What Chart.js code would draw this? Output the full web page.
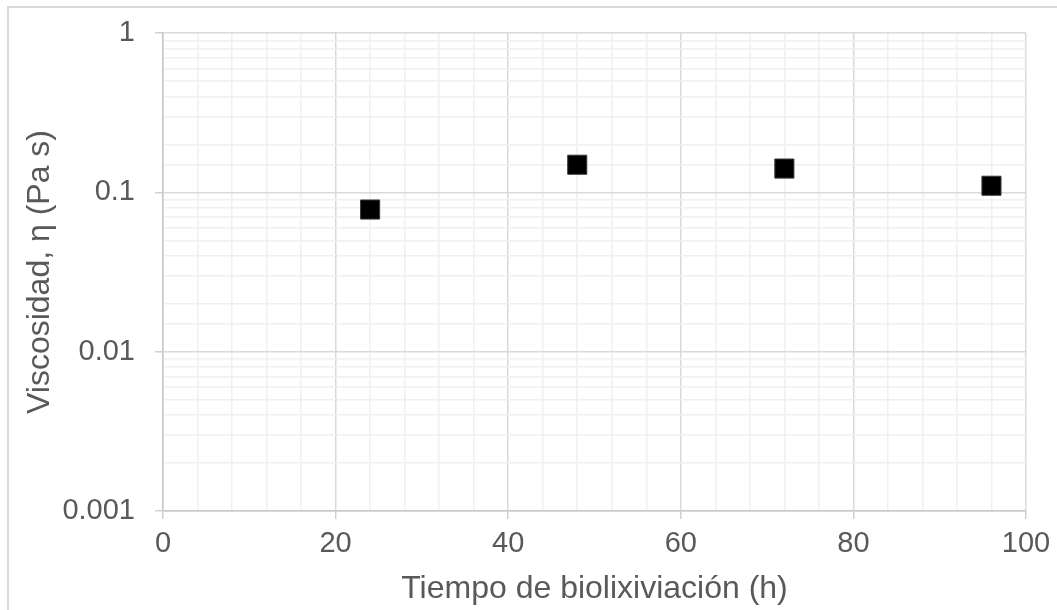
<!DOCTYPE html>
<html>
<head>
<meta charset="utf-8">
<script src="https://cdn.jsdelivr.net/npm/chart.js@4.4.1/dist/chart.umd.min.js"></script>
<style>
  html, body { margin: 0; padding: 0; background: #fff; }
  #wrap { position: relative; width: 1057px; height: 610px; overflow: hidden; }
  #frame { position: absolute; left: 7px; top: 6px; width: 1060px; height: 620px;
           border: 2px solid #d9d9d9; box-sizing: border-box; }
  #chartViscosidad { position: absolute; left: 0; top: 0; }
</style>
</head>
<body>
<div id="wrap">
  <div id="frame"></div>
  <canvas id="chartViscosidad" width="1057" height="610"></canvas>
</div>
<script>
// tiempo de biolixiviación (h) y viscosidad (Pa s)
const tiempos = [24, 48, 72, 96];
const viscosidad = [0.078, 0.149, 0.141, 0.110];

const xTickLabels = [0, 20, 40, 60, 80, 100];
const yTickLabels = ["0.001", "0.01", "0.1", "1"];

const fontFamily = "'Liberation Sans', Arial, sans-serif";
const textColor = "#595959";

function isDecade(v) {
  const l = Math.log10(v);
  return Math.abs(l - Math.round(l)) < 1e-6;
}

function yLabel(v) {
  if (!isDecade(v)) return "";
  const found = yTickLabels.find((t) => Math.abs(Number(t) - v) < v * 1e-6);
  return found || "";
}

const ctx = document.getElementById("chartViscosidad");

new Chart(ctx, {
  type: "scatter",
  data: {
    datasets: [
      {
        label: "Viscosidad",
        data: tiempos.map((t, i) => ({ x: t, y: viscosidad[i] })),
        pointStyle: "rect",
        pointRadius: 13.5,
        pointHoverRadius: 13.5,
        backgroundColor: "#000000",
        borderColor: "#3a3a3a",
        borderWidth: 1,
        showLine: false,
      },
    ],
  },
  options: {
    responsive: false,
    animation: false,
    layout: {
      padding: { left: 0, top: 33, right: 31, bottom: 0 },
    },
    plugins: {
      legend: { display: false },
      tooltip: { enabled: false },
    },
    scales: {
      x: {
        type: "linear",
        min: 0,
        max: 100,
        afterFit: (scale) => {
          scale.height = 99;
          scale.paddingLeft = 0;
          scale.paddingRight = 0;
        },
        ticks: {
          stepSize: 4,
          autoSkip: false,
          maxRotation: 0,
          padding: 8,
          color: textColor,
          font: { family: fontFamily, size: 29 },
          callback: (v) => (xTickLabels.includes(v) ? String(v) : ""),
        },
        grid: {
          lineWidth: 1.5,
          tickLength: 8,
          color: (c) => (c.tick && c.tick.value % 20 === 0 ? "#d9d9d9" : "#f0f0f0"),
          tickColor: (c) => (c.tick && c.tick.value % 20 === 0 ? "#d0d0d0" : "rgba(0,0,0,0)"),
        },
        border: { color: "#c8c8c8", width: 1.5 },
        title: {
          display: true,
          text: "Tiempo de biolixiviación (h)",
          color: textColor,
          font: { family: fontFamily, size: 32 },
          padding: { top: 0, bottom: 2 },
        },
      },
      y: {
        type: "logarithmic",
        min: 0.001,
        max: 1,
        afterFit: (scale) => {
          scale.width = 163;
          scale.paddingTop = 0;
          scale.paddingBottom = 0;
        },
        ticks: {
          autoSkip: false,
          padding: 20,
          color: textColor,
          font: { family: fontFamily, size: 29 },
          callback: (v) => yLabel(v),
        },
        grid: {
          lineWidth: 1.5,
          tickLength: 8,
          color: (c) => (c.tick && isDecade(c.tick.value) ? "#d9d9d9" : "#f0f0f0"),
          tickColor: (c) => (c.tick && isDecade(c.tick.value) ? "#d0d0d0" : "rgba(0,0,0,0)"),
        },
        border: { color: "#c8c8c8", width: 1.5 },
        title: {
          display: true,
          text: "Viscosidad, η (Pa s)",
          color: textColor,
          font: { family: fontFamily, size: 32 },
          padding: { top: 21, bottom: 0 },
        },
      },
    },
  },
});
</script>
</body>
</html>
